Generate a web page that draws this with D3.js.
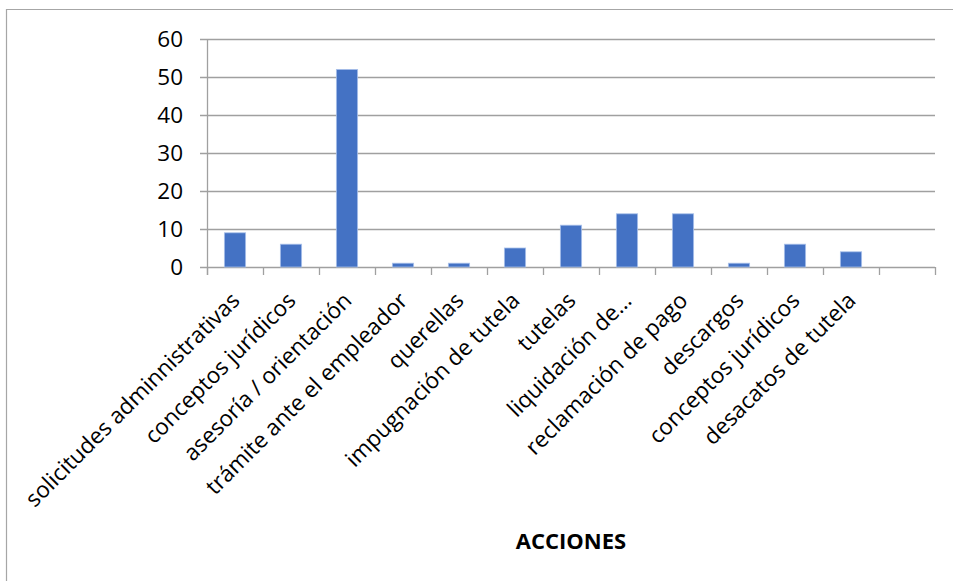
<!DOCTYPE html>
<html>
    <head>
        <meta charset="utf-8">
        <title>Acciones</title>
        <script src="https://d3js.org/d3.v7.min.js"></script>
        <style>
         body { margin: 0; background: #fff; }
         svg { display: block; font-family: "Open Sans", Lato, sans-serif; }
        </style>
    </head>
    <body>
        <svg width="953" height="581"></svg>
        <script>
         // data
         const categories = [
             "solicitudes adminnistrativas",
             "conceptos jurídicos",
             "asesoría / orientación",
             "trámite ante el empleador",
             "querellas",
             "impugnación de tutela",
             "tutelas",
             "liquidación de…",
             "reclamación de pago",
             "descargos",
             "conceptos jurídicos ",
             "desacatos de tutela",
             ""
         ];
         const values = [9, 6, 52, 1, 1, 5, 11, 14, 14, 1, 6, 4, null];
         const yTicks = [0, 10, 20, 30, 40, 50, 60];
         const xTitle = "ACCIONES";

         const svg = d3.select("svg");
         const width = +svg.attr("width");
         const height = +svg.attr("height");

         const margin = {top: 39, right: 18, bottom: 314, left: 207};
         const innerWidth = width - margin.left - margin.right;
         const innerHeight = height - margin.top - margin.bottom;

         // chart area border (only top and left show in the crop)
         svg.append("path")
            .attr("d", `M6.5,${height} V9.5 H${width}`)
            .attr("fill", "none")
            .attr("stroke", "#a6a6a6")
            .attr("stroke-width", 1.2);

         const xScale = d3.scaleBand()
                          .domain(d3.range(categories.length))
                          .range([0, innerWidth])
                          .paddingInner(0.62)
                          .paddingOuter(0.31);
         const slot = innerWidth / categories.length;
         const yScale = d3.scaleLinear().domain([0, 60]).range([innerHeight, 0]);

         const g = svg.append("g").attr("transform", `translate(${margin.left},${margin.top})`);

         // horizontal gridlines
         g.append("g")
          .selectAll("line")
          .data(yTicks)
          .join("line")
          .attr("x1", -7)
          .attr("x2", innerWidth)
          .attr("y1", d => Math.round(yScale(d)) + 0.5)
          .attr("y2", d => Math.round(yScale(d)) + 0.5)
          .attr("stroke", "#a0a0a0")
          .attr("stroke-width", 1.3);

         // y axis line
         g.append("line")
          .attr("x1", 0.5).attr("x2", 0.5)
          .attr("y1", 0).attr("y2", innerHeight + 8)
          .attr("stroke", "#a0a0a0")
          .attr("stroke-width", 1.3);

         // category tick marks
         g.append("g")
          .selectAll("line")
          .data(d3.range(categories.length + 1))
          .join("line")
          .attr("x1", i => Math.round(i * slot) + 0.5)
          .attr("x2", i => Math.round(i * slot) + 0.5)
          .attr("y1", innerHeight)
          .attr("y2", innerHeight + 8)
          .attr("stroke", "#a0a0a0")
          .attr("stroke-width", 1.3);

         // y tick labels
         g.append("g")
          .selectAll("text")
          .data(yTicks)
          .join("text")
          .attr("x", -24)
          .attr("y", d => yScale(d))
          .attr("dy", "0.36em")
          .attr("text-anchor", "end")
          .attr("font-size", 22.5)
          .attr("fill", "#000")
          .text(d => d);

         // bars
         g.append("g")
          .selectAll("rect")
          .data(values.map((v, i) => ({v, i})).filter(d => d.v != null))
          .join("rect")
          .attr("x", d => xScale(d.i))
          .attr("y", d => yScale(d.v))
          .attr("width", xScale.bandwidth())
          .attr("height", d => innerHeight - yScale(d.v))
          .attr("fill", "#4472c4")
          .attr("stroke", "#a9c0ea")
          .attr("stroke-width", 0.8);

         // rotated category labels
         g.append("g")
          .selectAll("text")
          .data(categories)
          .join("text")
          .attr("text-anchor", "end")
          .attr("font-size", 22.5)
          .attr("fill", "#000")
          .attr("transform", (d, i) => `translate(${(i + 0.5) * slot + 6},${innerHeight + 35}) rotate(-45)`)
          .text(d => d);

         // axis title
         svg.append("text")
            .attr("x", 571)
            .attr("y", 549)
            .attr("text-anchor", "middle")
            .attr("font-size", 22)
            .attr("font-weight", "bold")
            .attr("fill", "#000")
            .text(xTitle);
        </script>
    </body>
</html>
